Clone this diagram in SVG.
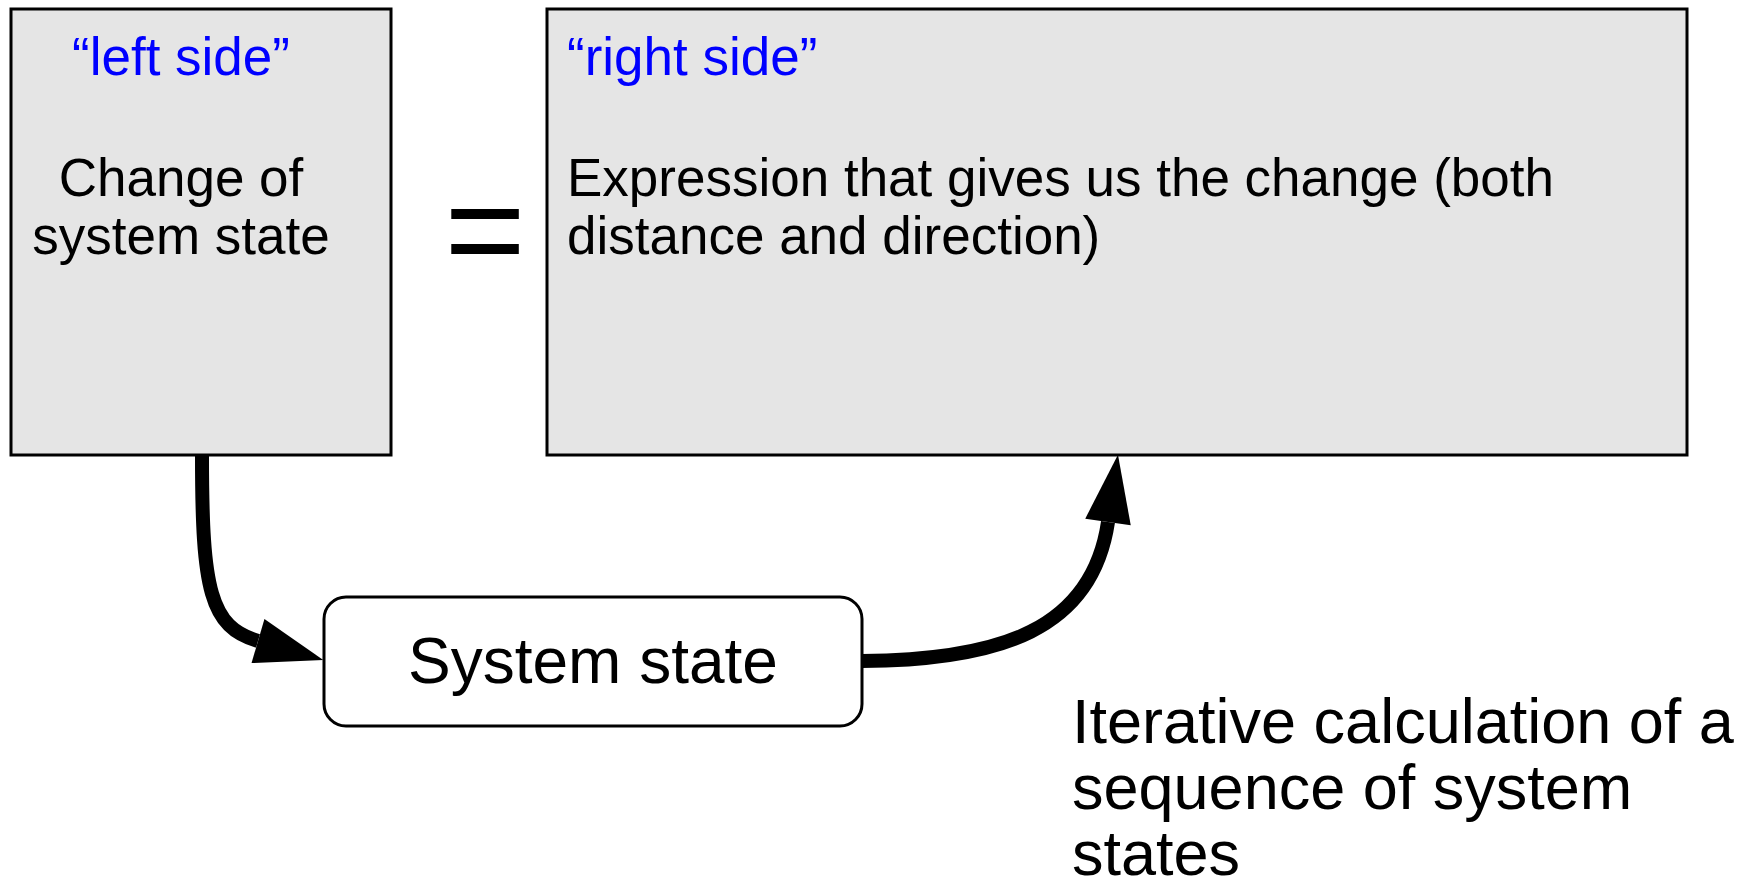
<svg xmlns="http://www.w3.org/2000/svg" width="1760" height="889" viewBox="0 0 1760 889">
  <style>
    .box { fill: #e5e5e5; stroke: #000; stroke-width: 3; }
    .state { fill: #fff; stroke: #000; stroke-width: 3; }
    .txt { font-family: "Liberation Sans", Arial, sans-serif; fill: #000; }
    .blue { fill: #0000ff; }
    .link { fill: none; stroke: #000; stroke-width: 14; }
  </style>
  <defs>
    <marker id="head" markerUnits="userSpaceOnUse" markerWidth="70" markerHeight="48" refX="0" refY="23" orient="auto" overflow="visible">
      <path d="M0,0 L68,23 L0,46 z" fill="#000"/>
    </marker>
  </defs>

  <rect width="1760" height="889" fill="#fff"/>

  <g id="left-side">
    <rect class="box" x="11" y="9" width="380" height="446"/>
    <text class="txt blue" x="181" y="75" font-size="53" text-anchor="middle">“left side”</text>
    <text class="txt" x="181" y="196" font-size="53" text-anchor="middle">Change of</text>
    <text class="txt" x="181" y="254" font-size="53" text-anchor="middle">system state</text>
  </g>

  <g id="equals">
    <text class="txt" x="485" y="277" font-size="139" text-anchor="middle">=</text>
  </g>

  <g id="right-side">
    <rect class="box" x="547" y="9" width="1140" height="446"/>
    <text class="txt blue" x="567" y="75" font-size="53">“right side”</text>
    <text class="txt" x="567" y="196" font-size="53">Expression that gives us the change (both</text>
    <text class="txt" x="567" y="254" font-size="53">distance and direction)</text>
  </g>

  <g id="system-state">
    <rect class="state" x="324" y="597" width="538" height="129" rx="22" ry="22"/>
    <text class="txt" x="593" y="683" font-size="64" text-anchor="middle">System state</text>
  </g>

  <g id="caption">
    <text class="txt" x="1072" y="743" font-size="63">Iterative calculation of a</text>
    <text class="txt" x="1072" y="809" font-size="63">sequence of system</text>
    <text class="txt" x="1072" y="875" font-size="63">states</text>
  </g>

  <g id="connectors">
    <path class="link" d="M202,456 C202,590 210,627 258,641" marker-end="url(#head)"/>
    <path class="link" d="M862,661 C1000,660 1092,630 1108,522" marker-end="url(#head)"/>
  </g>
</svg>
